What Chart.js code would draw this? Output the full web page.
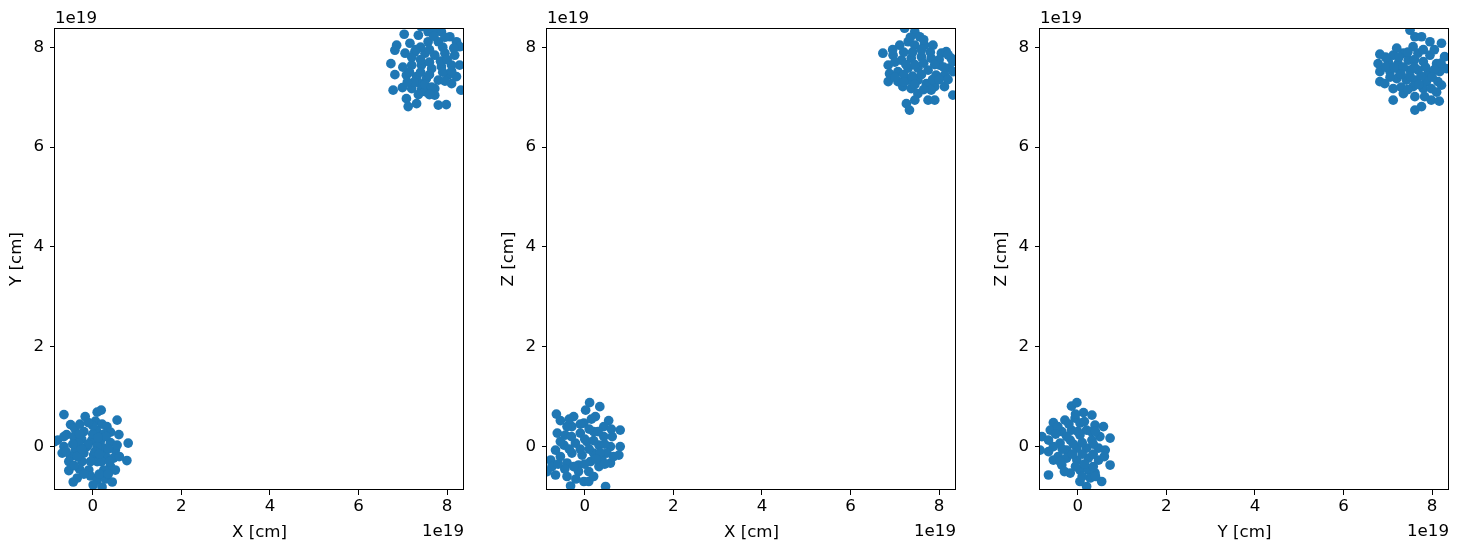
<!DOCTYPE html>
<html>
<head>
<meta charset="utf-8">
<script src="https://cdn.jsdelivr.net/npm/chart.js@4.4.0/dist/chart.umd.min.js"></script>
<style>
  html, body { margin: 0; padding: 0; background: #fff; }
  #wrap { position: relative; width: 1458px; height: 551px; }
  #wrap canvas { position: absolute; top: 0; }
</style>
</head>
<body>
<div id="wrap">
  <canvas id="c1" width="492" height="551" style="left:0px"></canvas>
  <canvas id="c2" width="492" height="551" style="left:492px"></canvas>
  <canvas id="c3" width="492" height="551" style="left:985px"></canvas>
</div>
<script>
// values in units of 1e19 cm
const tickValues = [0, 2, 4, 6, 8]
const xRange = [-0.852, 8.38]
const yRange = [-0.87, 8.385]

// X-Y projection
const xyNear = [
  [-0.65, 0.64], [-0.17, 0.6], [0.10, 0.69], [0.19, 0.73], [0.55, 0.53], [-0.5, 0.44],
  [-0.41, 0.37], [-0.29, 0.45], [0.06, 0.51], [0.21, 0.45], [0.32, 0.4], [0.4, 0.29],
  [0.08, 0.33], [-0.2, 0.3], [0.59, 0.24], [-0.59, 0.24], [-0.79, 0.13], [-0.65, 0.2],
  [-0.43, 0.2], [-0.25, 0.15], [0.8, 0.07], [0.17, 0.1], [-0.02, 0.13], [0.4, 0.08],
  [0.51, -0.07], [0.25, -0.03], [-0.13, 0.0], [-0.39, -0.07], [-0.65, 0.0], [-0.69, -0.13],
  [-0.5, -0.2], [-0.2, -0.13], [0.02, -0.17], [0.29, -0.2], [0.47, -0.23], [0.77, -0.28],
  [-0.54, -0.3], [-0.24, -0.3], [0.1, -0.3], [0.4, -0.4], [0.25, -0.47], [-0.09, -0.47],
  [-0.54, -0.48], [-0.05, -0.59], [-0.35, -0.63], [-0.44, -0.71], [0.1, -0.67], [0.29, -0.65],
  [0.44, -0.71], [0.01, -0.77], [0.21, -0.81], [0.51, -0.47], [-0.32, 0.07], [0.55, 0.03],
  [-0.86, 0.1],
  [-0.3, 0.25], [0.0, 0.25], [0.25, 0.25], [-0.45, 0.05], [-0.1, 0.05], [0.1, 0.0],
  [0.35, -0.05], [-0.35, -0.2], [-0.05, -0.3], [0.2, -0.3], [-0.3, -0.45], [0.15, -0.55],
  [0.35, -0.55], [-0.2, -0.55], [0.0, 0.42], [-0.1, 0.48], [0.3, 0.2], [0.6, -0.2],
  [-0.6, -0.1], [0.05, -0.1], [-0.25, -0.05], [0.15, -0.15], [-0.42, -0.38], [0.38, -0.3],
  [0.12, 0.18]
]
const xyFar = [
  [7.03, 8.26], [6.86, 8.04], [6.82, 7.94], [6.73, 7.67], [6.82, 7.45], [6.78, 7.14],
  [6.99, 7.19], [7.08, 6.97], [7.12, 6.81], [7.31, 6.87], [7.35, 8.24], [7.57, 8.31],
  [7.87, 8.31], [8.06, 8.21], [8.21, 8.11], [8.28, 8.01], [7.8, 8.11], [7.57, 8.11],
  [7.16, 8.08], [7.05, 7.88], [7.27, 7.91], [7.5, 7.88], [7.72, 7.84], [7.95, 7.88],
  [8.17, 7.84], [8.28, 7.64], [8.1, 7.64], [7.87, 7.61], [7.65, 7.57], [7.42, 7.64],
  [7.2, 7.64], [7.08, 7.44], [7.31, 7.41], [7.53, 7.37], [7.8, 7.34], [8.02, 7.44],
  [8.21, 7.41], [8.31, 7.14], [7.2, 7.17], [7.42, 7.14], [7.5, 7.11], [7.72, 7.17],
  [7.72, 7.04], [7.8, 6.84], [7.98, 6.85], [8.1, 7.27], [7.38, 7.27], [7.68, 8.34],
  [7.42, 8.41], [7.83, 8.44],
  [7.2, 7.8], [7.4, 7.75], [7.6, 7.7], [7.85, 7.72], [8.0, 7.75], [7.15, 7.5],
  [7.4, 7.5], [7.6, 7.45], [7.9, 7.5], [8.1, 7.52], [7.25, 7.3], [7.5, 7.25],
  [7.65, 7.2], [7.95, 7.32], [7.6, 7.95], [7.4, 8.0], [7.9, 8.0], [8.15, 7.98],
  [7.0, 7.6], [7.1, 7.3], [7.6, 7.05], [7.35, 7.05], [7.7, 8.22], [7.95, 8.2],
  [7.3, 7.95]
]

// X-Z projection
const xzNear = [
  [0.11, 0.88], [0.34, 0.8], [0.02, 0.73], [-0.64, 0.65], [-0.25, 0.6], [-0.55, 0.52],
  [-0.02, 0.47], [0.24, 0.6], [0.54, 0.52], [0.8, 0.33], [0.43, 0.4], [-0.29, 0.4],
  [-0.62, 0.27], [-0.44, 0.23], [-0.1, 0.27], [0.2, 0.3], [0.43, 0.2], [0.62, 0.2],
  [-0.47, 0.03], [-0.66, -0.07], [-0.21, 0.07], [0.05, 0.1], [0.32, 0.03], [0.58, 0.0],
  [0.8, 0.0], [-0.55, -0.2], [-0.29, -0.13], [-0.06, -0.17], [0.2, -0.13], [0.5, -0.13],
  [0.77, -0.17], [-0.77, -0.27], [-0.74, -0.4], [-0.4, -0.33], [-0.14, -0.37], [0.13, -0.3],
  [0.39, -0.27], [0.58, -0.33], [-0.66, -0.57], [-0.4, -0.6], [-0.14, -0.5], [0.09, -0.5],
  [-0.02, -0.7], [0.09, -0.7], [0.47, -0.8], [-0.32, -0.79], [-0.85, -0.5], [0.32, -0.4],
  [-0.4, 0.4], [-0.1, 0.45], [0.1, 0.35], [0.3, 0.3], [-0.3, 0.2], [0.0, 0.15],
  [0.2, 0.12], [0.45, 0.05], [-0.55, 0.1], [-0.35, -0.05], [-0.1, -0.05], [0.1, -0.05],
  [0.35, -0.12], [-0.45, -0.45], [-0.25, -0.4], [0.0, -0.35], [0.25, -0.25], [0.45, -0.35],
  [-0.2, -0.65], [0.2, -0.6], [0.6, 0.35], [-0.6, -0.35], [0.15, 0.55], [-0.35, 0.55],
  [0.65, -0.2]
]
const xzFar = [
  [7.22, 8.38], [7.45, 8.31], [7.56, 8.21], [6.73, 7.88], [6.96, 7.84], [7.11, 8.04],
  [7.30, 8.11], [7.45, 8.04], [7.67, 8.04], [7.86, 8.04], [8.05, 7.88], [8.16, 7.91],
  [8.27, 7.78], [6.85, 7.64], [7.15, 7.74], [7.37, 7.78], [7.60, 7.81], [7.82, 7.78],
  [8.01, 7.64], [8.23, 7.58], [6.88, 7.47], [7.07, 7.51], [7.30, 7.58], [7.52, 7.58],
  [7.75, 7.54], [7.93, 7.44], [8.12, 7.44], [8.31, 7.51], [6.85, 7.31], [7.07, 7.31],
  [7.30, 7.34], [7.52, 7.34], [7.71, 7.27], [7.90, 7.21], [8.12, 7.21], [7.18, 7.21],
  [7.37, 7.17], [7.52, 7.07], [7.82, 7.14], [8.31, 7.04], [7.75, 6.94], [7.90, 6.94],
  [7.26, 6.87], [7.33, 6.74], [7.45, 6.94], [8.31, 7.71],
  [7.2, 7.9], [7.4, 7.9], [7.6, 7.95], [7.8, 7.9], [8.0, 7.75], [7.0, 7.7],
  [7.25, 7.65], [7.45, 7.65], [7.65, 7.68], [7.9, 7.65], [8.1, 7.6], [7.0, 7.4],
  [7.2, 7.45], [7.4, 7.42], [7.6, 7.45], [7.85, 7.35], [8.0, 7.35], [7.2, 7.3],
  [7.45, 7.25], [7.65, 7.15], [8.2, 7.35], [8.2, 7.85], [7.35, 8.2], [7.65, 8.15],
  [6.95, 7.95]
]

// Y-Z projection
const yzNear = [
  [-0.14, 0.81], [-0.02, 0.88], [0.13, 0.68], [0.32, 0.63], [-0.55, 0.48], [-0.29, 0.53],
  [-0.06, 0.57], [0.58, 0.4], [0.39, 0.43], [0.05, 0.47], [-0.62, 0.33], [-0.36, 0.3],
  [-0.14, 0.33], [0.2, 0.33], [0.73, 0.17], [-0.81, 0.2], [-0.66, 0.13], [-0.4, 0.07],
  [-0.17, 0.13], [0.05, 0.23], [0.5, 0.2], [0.32, 0.13], [-0.85, -0.07], [-0.66, -0.1],
  [-0.44, -0.2], [-0.25, -0.07], [-0.02, -0.03], [0.2, -0.03], [0.47, -0.03], [0.62, -0.07],
  [-0.55, -0.27], [-0.25, -0.23], [-0.02, -0.27], [0.24, -0.23], [0.47, -0.27], [0.73, -0.37],
  [-0.66, -0.57], [-0.17, -0.53], [0.05, -0.47], [0.24, -0.47], [0.39, -0.53], [0.05, -0.7],
  [0.2, -0.8], [0.54, -0.7], [0.28, -0.63], [-0.36, -0.37],
  [-0.45, 0.4], [-0.2, 0.45], [0.15, 0.5], [0.3, 0.3], [-0.5, 0.25], [-0.25, 0.2],
  [0.0, 0.3], [0.4, 0.3], [-0.55, 0.0], [-0.35, -0.05], [-0.1, 0.05], [0.1, 0.08],
  [0.35, 0.05], [-0.4, -0.3], [-0.12, -0.15], [0.1, -0.15], [0.35, -0.15], [0.6, -0.2],
  [-0.05, -0.4], [0.15, -0.35], [0.35, -0.4], [-0.3, -0.5], [0.1, -0.6], [0.4, -0.6],
  [-0.05, 0.65]
]
const yzFar = [
  [7.5, 8.34], [7.61, 8.21], [7.76, 8.21], [7.95, 8.11], [8.21, 8.08], [7.57, 8.01],
  [6.82, 7.86], [7.12, 7.84], [7.35, 7.88], [7.68, 7.88], [7.95, 7.84], [8.28, 7.81],
  [6.78, 7.67], [7.01, 7.71], [7.23, 7.67], [7.46, 7.74], [7.8, 7.71], [8.1, 7.67],
  [6.82, 7.51], [7.05, 7.51], [7.27, 7.51], [7.5, 7.54], [7.68, 7.54], [7.91, 7.47],
  [8.17, 7.51], [8.32, 7.57], [6.82, 7.31], [6.93, 7.27], [7.2, 7.37], [7.42, 7.34],
  [7.61, 7.34], [7.87, 7.31], [8.13, 7.31], [7.12, 7.17], [7.35, 7.07], [7.57, 7.21],
  [7.8, 7.17], [7.98, 7.17], [8.21, 7.24], [7.12, 6.94], [7.61, 7.01], [7.83, 7.01],
  [7.98, 6.94], [8.16, 6.92], [7.61, 6.74], [7.76, 6.81],
  [7.2, 7.98], [7.45, 7.9], [7.8, 7.95], [8.05, 7.95], [6.95, 7.8], [7.25, 7.8],
  [7.6, 7.75], [8.2, 7.68], [6.95, 7.6], [7.15, 7.6], [7.35, 7.6], [7.6, 7.6],
  [7.85, 7.6], [8.05, 7.55], [7.05, 7.4], [7.3, 7.45], [7.5, 7.42], [7.75, 7.42],
  [8.0, 7.4], [7.3, 7.2], [7.7, 7.25], [7.45, 7.15], [8.1, 7.1]
]

const FONT = { family: 'DejaVu Sans', size: 16.67 }

// box around the plot + the "1e19" offset labels like matplotlib
const framePlugin = {
  id: 'frame',
  afterDraw(chart) {
    const { ctx, chartArea: a } = chart
    ctx.save()
    ctx.strokeStyle = '#000'
    ctx.lineWidth = 1
    ctx.strokeRect(a.left - 0.5, a.top + 0.5, a.right - a.left, a.bottom - a.top - 1)
    ctx.fillStyle = '#000'
    ctx.font = `${FONT.size}px "${FONT.family}"`
    ctx.textBaseline = 'middle'
    ctx.textAlign = 'left'
    ctx.fillText('1e19', a.left, a.top - 9)
    ctx.textAlign = 'right'
    ctx.fillText('1e19', a.right, a.bottom + 42)
    ctx.restore()
  }
}

function axis(range, title, isX) {
  return {
    type: 'linear',
    min: range[0],
    max: range[1],
    afterBuildTicks: (scale) => { scale.ticks = tickValues.map(v => ({ value: v })) },
    afterFit: (scale) => {
      if (isX) scale.height = 61
      else scale.width = 55
    },
    border: { display: false },
    grid: { drawOnChartArea: false, drawTicks: true, tickLength: 5, color: '#000', lineWidth: 1 },
    ticks: { color: '#000', font: FONT, padding: isX ? 2 : 6, maxRotation: 0, autoSkip: false },
    title: { display: true, text: title, color: '#000', font: FONT, padding: isX ? 8 : 7 }
  }
}

function makeChart(id, near, far, xTitle, yTitle) {
  const pts = near.concat(far).map(p => ({ x: p[0], y: p[1] }))
  return new Chart(document.getElementById(id), {
    type: 'scatter',
    data: {
      datasets: [{
        data: pts,
        backgroundColor: '#1f77b4',
        borderWidth: 0,
        pointRadius: 4.85,
        pointHoverRadius: 4.85,
        clip: 0
      }]
    },
    options: {
      responsive: false,
      animation: false,
      devicePixelRatio: 1,
      layout: { padding: { left: 0, right: 28, top: 28, bottom: 0 } },
      plugins: { legend: { display: false }, tooltip: { enabled: false } },
      scales: {
        x: axis(xRange, xTitle, true),
        y: axis(yRange, yTitle, false)
      }
    },
    plugins: [framePlugin]
  })
}

makeChart('c1', xyNear, xyFar, 'X [cm]', 'Y [cm]')
makeChart('c2', xzNear, xzFar, 'X [cm]', 'Z [cm]')
makeChart('c3', yzNear, yzFar, 'Y [cm]', 'Z [cm]')
</script>
</body>
</html>
